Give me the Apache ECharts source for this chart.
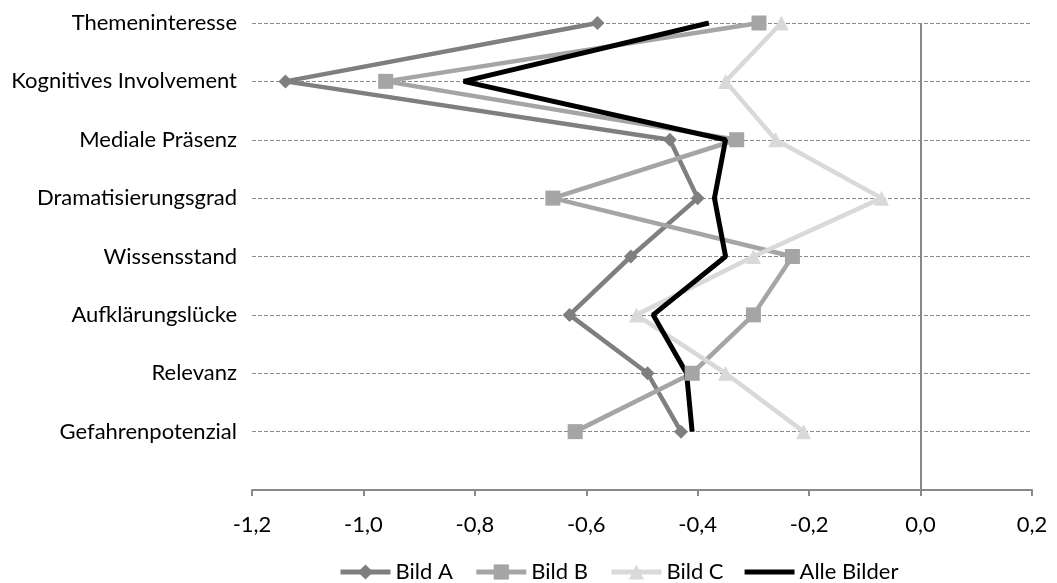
<!DOCTYPE html>
<html>
<head>
<meta charset="utf-8">
<script src="https://cdn.jsdelivr.net/npm/echarts@6/dist/echarts.min.js"></script>
<style>
  html, body { margin: 0; padding: 0; background: #ffffff; }
  #chart { width: 1057px; height: 583px; }
</style>
</head>
<body>
<div id="chart"></div>
<script>
// Kategorien von oben nach unten
const categories = [
  'Themeninteresse',
  'Kognitives Involvement',
  'Mediale Präsenz',
  'Dramatisierungsgrad',
  'Wissensstand',
  'Aufklärungslücke',
  'Relevanz',
  'Gefahrenpotenzial'
];

// Mittelwertdifferenzen je Bild
const bildA = [-0.58, -1.14, -0.45, -0.40, -0.52, -0.63, -0.49, -0.43];
const bildB = [-0.29, -0.96, -0.33, -0.66, -0.23, -0.30, -0.41, -0.62];
const bildC = [-0.25, -0.35, -0.26, -0.07, -0.30, -0.51, -0.35, -0.21];
const alleBilder = [-0.38, -0.82, -0.35, -0.37, -0.35, -0.48, -0.42, -0.41];

// Skala der Werteachse
const xMin = -1.2;
const xMax = 0.2;
const xStep = 0.2;

const FONT = 'Lato';
const FONT_SIZE = 22;
const GRID_GRAY = '#898989';

function fmt(v) {
  if (Math.abs(v) < 1e-9) v = 0;
  return v.toFixed(1).replace('.', ',');
}

const chart = echarts.init(document.getElementById('chart'), null, { renderer: 'canvas' });

chart.setOption({
  animation: false,
  backgroundColor: '#ffffff',
  textStyle: { fontFamily: FONT },
  grid: { left: 252, right: 25, top: 23, bottom: 93, containLabel: false },
  legend: {
    left: 333,
    top: 556,
    itemWidth: 50,
    itemHeight: 19,
    itemGap: 21,
    lineStyle: { width: 5 },
    textStyle: { fontFamily: FONT, fontSize: FONT_SIZE, color: '#000000' },
    data: [
      { name: 'Bild A' },
      { name: 'Bild B' },
      { name: 'Bild C' },
      { name: 'Alle Bilder', icon: 'path://M0,0H50V5H0Z' }
    ]
  },
  xAxis: {
    type: 'value',
    min: xMin,
    max: xMax,
    interval: xStep,
    axisLine: { show: true, onZero: false, lineStyle: { color: GRID_GRAY, width: 2 } },
    axisTick: { show: true, length: 6, lineStyle: { color: GRID_GRAY, width: 2 } },
    splitLine: { show: false },
    axisLabel: {
      margin: 24,
      fontFamily: FONT,
      fontSize: FONT_SIZE,
      color: '#000000',
      formatter: fmt
    }
  },
  yAxis: {
    type: 'category',
    inverse: true,
    boundaryGap: false,
    data: categories.concat(['']),
    axisLine: { show: false },
    axisTick: { show: false },
    axisLabel: {
      interval: 0,
      margin: 15,
      fontFamily: FONT,
      fontSize: FONT_SIZE,
      color: '#000000'
    },
    splitLine: {
      show: true,
      interval: 0,
      lineStyle: { color: GRID_GRAY, width: 1.2, type: [4, 2] }
    }
  },
  series: [
    {
      name: 'Bild A',
      type: 'line',
      data: bildA,
      symbol: 'diamond',
      symbolSize: 14,
      lineStyle: { color: '#7f7f7f', width: 4.5 },
      itemStyle: { color: '#7f7f7f' },
      markLine: {
        silent: true,
        symbol: 'none',
        label: { show: false },
        lineStyle: { color: GRID_GRAY, width: 2, type: 'solid' },
        data: [{ xAxis: 0 }]
      }
    },
    {
      name: 'Bild B',
      type: 'line',
      data: bildB,
      symbol: 'rect',
      symbolSize: 15,
      lineStyle: { color: '#a5a5a5', width: 4.5 },
      itemStyle: { color: '#a5a5a5' }
    },
    {
      name: 'Bild C',
      type: 'line',
      data: bildC,
      symbol: 'triangle',
      symbolSize: 15,
      lineStyle: { color: '#d9d9d9', width: 4.5 },
      itemStyle: { color: '#d9d9d9' }
    },
    {
      name: 'Alle Bilder',
      type: 'line',
      data: alleBilder,
      symbol: 'none',
      lineStyle: { color: '#000000', width: 5 },
      itemStyle: { color: '#000000' }
    }
  ]
});
</script>
</body>
</html>
